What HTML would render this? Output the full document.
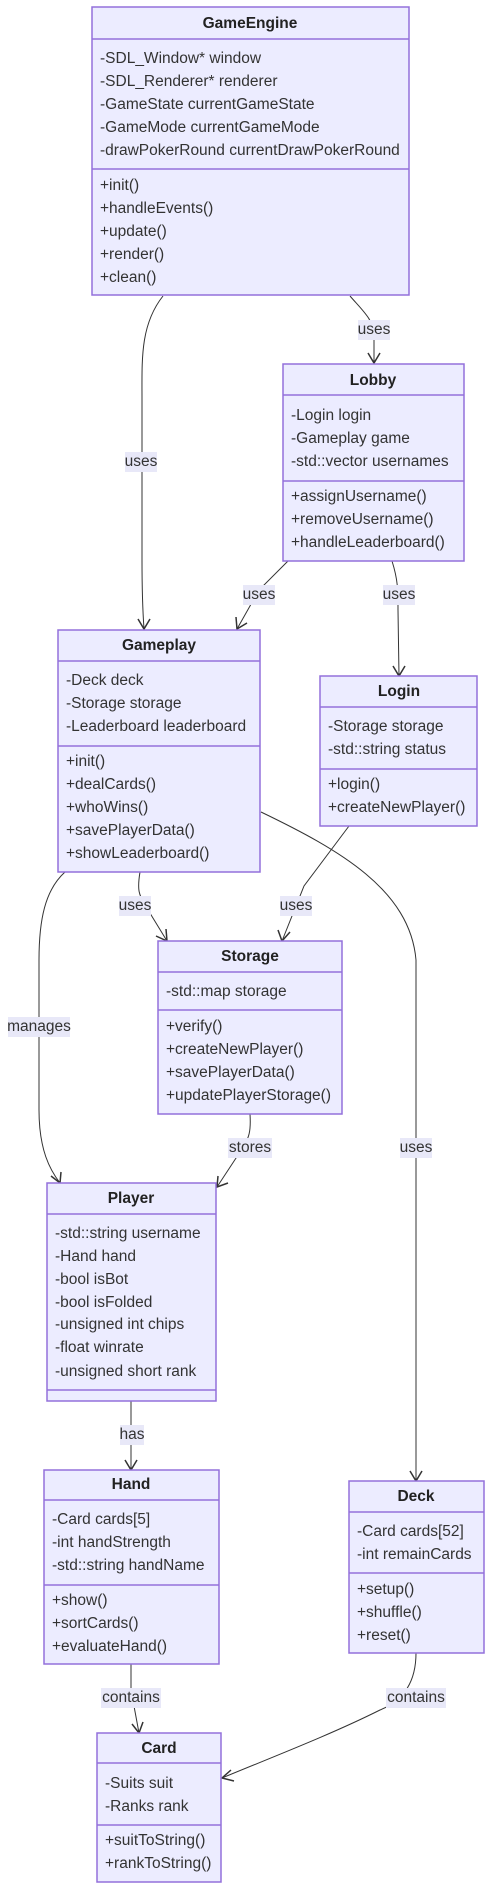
<!DOCTYPE html>
<html><head><meta charset="utf-8"><style>
html,body{margin:0;padding:0;background:#fff;}
svg{display:block;}
text{font-family:"Liberation Sans",sans-serif;font-size:15.5px;fill:#333;dominant-baseline:middle;}
.h{font-weight:bold;text-anchor:middle;fill:#222;}
.b{fill:#ECECFF;stroke:#9370DB;stroke-width:1.5;}
.d{stroke:#9370DB;stroke-width:1.5;}
.e{fill:none;stroke:#333;stroke-width:1;}
.lb{fill:#e8e8f8;}
.lt{text-anchor:middle;}
.ar{fill:none;stroke:#333;stroke-width:1.5;}
</style></head><body>
<svg width="492" height="1894" viewBox="0 0 492 1894" xmlns="http://www.w3.org/2000/svg">
<!-- edges -->
<path class="e" d="M163,296 C140,325 142,360 142,400 L142,560 C142,600 143,615 144,629"/>
<path class="ar" d="M138,619 L144,629 L150,619"/>
<path class="e" d="M350,296 C362,310 374,320 374,335 L374,363"/>
<path class="ar" d="M368,353 L374,363 L380,353"/>
<path class="e" d="M288,561 L259,590 L237,629"/>
<path class="ar" d="M236,617 L237,629 L247,623"/>
<path class="e" d="M392,561 C398,580 398,590 398,610 L399,676"/>
<path class="ar" d="M393,666 L399,676 L405,666"/>
<path class="e" d="M140,872 C137,890 139,895 145,905 L167,941"/>
<path class="ar" d="M156,936 L167,941 L166,929"/>
<path class="e" d="M349,826 L304,886 L282,941"/>
<path class="ar" d="M278,930 L282,941 L290,932"/>
<path class="e" d="M261,812 C340,850 410,890 416,960 L416,1481"/>
<path class="ar" d="M410,1471 L416,1481 L422,1471"/>
<path class="e" d="M65,872 C45,890 39,920 39,960 L39,1110 C39,1150 50,1170 60,1183"/>
<path class="ar" d="M51,1176 L60,1183 L61,1172"/>
<path class="e" d="M250,1114 C251,1130 250,1138 240,1152 L217,1187"/>
<path class="ar" d="M218,1176 L217,1187 L228,1183"/>
<path class="e" d="M131,1401 L131,1470"/>
<path class="ar" d="M125,1460 L131,1470 L137,1460"/>
<path class="e" d="M131,1664 L131,1690 L139,1733"/>
<path class="ar" d="M132,1724 L139,1733 L143,1722"/>
<path class="e" d="M416,1653 C416,1680 405,1700 380,1710 C330,1735 270,1758 222,1778"/>
<path class="ar" d="M231,1770 L222,1778 L234,1781"/>
<!-- edge labels -->
<rect class="lb" x="125" y="452" width="32" height="20"/><text class="lt" x="141" y="462">uses</text>
<rect class="lb" x="358" y="320" width="32" height="20"/><text class="lt" x="374" y="330">uses</text>
<rect class="lb" x="243" y="585" width="32" height="20"/><text class="lt" x="259" y="595">uses</text>
<rect class="lb" x="383" y="585" width="32" height="20"/><text class="lt" x="399" y="595">uses</text>
<rect class="lb" x="119" y="896" width="32" height="20"/><text class="lt" x="135" y="906">uses</text>
<rect class="lb" x="280" y="896" width="32" height="20"/><text class="lt" x="296" y="906">uses</text>
<rect class="lb" x="400" y="1138" width="32" height="20"/><text class="lt" x="416" y="1148">uses</text>
<rect class="lb" x="8" y="1017" width="62" height="20"/><text class="lt" x="39" y="1027">manages</text>
<rect class="lb" x="228" y="1138" width="44" height="20"/><text class="lt" x="250" y="1148">stores</text>
<rect class="lb" x="120" y="1425" width="24" height="20"/><text class="lt" x="132" y="1435">has</text>
<rect class="lb" x="101" y="1688" width="60" height="20"/><text class="lt" x="131" y="1698">contains</text>
<rect class="lb" x="386" y="1688" width="60" height="20"/><text class="lt" x="416" y="1698">contains</text>

<!-- GameEngine -->
<rect class="b" x="92" y="7" width="317" height="288"/>
<line class="d" x1="92" y1="39" x2="409" y2="39"/><line class="d" x1="92" y1="169" x2="409" y2="169"/>
<text class="h" x="250" y="24">GameEngine</text>
<text x="100" y="59">-SDL_Window* window</text>
<text x="100" y="82">-SDL_Renderer* renderer</text>
<text x="100" y="105">-GameState currentGameState</text>
<text x="100" y="128">-GameMode currentGameMode</text>
<text x="100" y="151">-drawPokerRound currentDrawPokerRound</text>
<text x="100" y="186">+init()</text>
<text x="100" y="209">+handleEvents()</text>
<text x="100" y="232">+update()</text>
<text x="100" y="255">+render()</text>
<text x="100" y="278">+clean()</text>

<!-- Lobby -->
<rect class="b" x="283" y="364" width="181" height="197"/>
<line class="d" x1="283" y1="395" x2="464" y2="395"/><line class="d" x1="283" y1="481" x2="464" y2="481"/>
<text class="h" x="373" y="381">Lobby</text>
<text x="291" y="416">-Login login</text>
<text x="291" y="439">-Gameplay game</text>
<text x="291" y="462">-std::vector usernames</text>
<text x="291" y="497">+assignUsername()</text>
<text x="291" y="520">+removeUsername()</text>
<text x="291" y="543">+handleLeaderboard()</text>

<!-- Gameplay -->
<rect class="b" x="58" y="630" width="202" height="242"/>
<line class="d" x1="58" y1="661" x2="260" y2="661"/><line class="d" x1="58" y1="746" x2="260" y2="746"/>
<text class="h" x="159" y="646">Gameplay</text>
<text x="66" y="681">-Deck deck</text>
<text x="66" y="704">-Storage storage</text>
<text x="66" y="727">-Leaderboard leaderboard</text>
<text x="66" y="762">+init()</text>
<text x="66" y="785">+dealCards()</text>
<text x="66" y="808">+whoWins()</text>
<text x="66" y="831">+savePlayerData()</text>
<text x="66" y="854">+showLeaderboard()</text>

<!-- Login -->
<rect class="b" x="320" y="676" width="157" height="150"/>
<line class="d" x1="320" y1="707" x2="477" y2="707"/><line class="d" x1="320" y1="769" x2="477" y2="769"/>
<text class="h" x="399" y="692">Login</text>
<text x="328" y="727">-Storage storage</text>
<text x="328" y="750">-std::string status</text>
<text x="328" y="785">+login()</text>
<text x="328" y="808">+createNewPlayer()</text>

<!-- Storage -->
<rect class="b" x="158" y="941" width="184" height="173"/>
<line class="d" x1="158" y1="972" x2="342" y2="972"/><line class="d" x1="158" y1="1010" x2="342" y2="1010"/>
<text class="h" x="250" y="957">Storage</text>
<text x="166" y="992">-std::map storage</text>
<text x="166" y="1027">+verify()</text>
<text x="166" y="1050">+createNewPlayer()</text>
<text x="166" y="1073">+savePlayerData()</text>
<text x="166" y="1096">+updatePlayerStorage()</text>

<!-- Player -->
<rect class="b" x="47" y="1183" width="169" height="218"/>
<line class="d" x1="47" y1="1214" x2="216" y2="1214"/><line class="d" x1="47" y1="1390" x2="216" y2="1390"/>
<text class="h" x="131" y="1199">Player</text>
<text x="55" y="1234">-std::string username</text>
<text x="55" y="1257">-Hand hand</text>
<text x="55" y="1280">-bool isBot</text>
<text x="55" y="1303">-bool isFolded</text>
<text x="55" y="1325">-unsigned int chips</text>
<text x="55" y="1348">-float winrate</text>
<text x="55" y="1372">-unsigned short rank</text>

<!-- Hand -->
<rect class="b" x="44" y="1470" width="175" height="194"/>
<line class="d" x1="44" y1="1500" x2="219" y2="1500"/><line class="d" x1="44" y1="1585" x2="219" y2="1585"/>
<text class="h" x="131" y="1485">Hand</text>
<text x="52" y="1520">-Card cards[5]</text>
<text x="52" y="1543">-int handStrength</text>
<text x="52" y="1566">-std::string handName</text>
<text x="52" y="1601">+show()</text>
<text x="52" y="1624">+sortCards()</text>
<text x="52" y="1647">+evaluateHand()</text>

<!-- Deck -->
<rect class="b" x="349" y="1481" width="135" height="172"/>
<line class="d" x1="349" y1="1512" x2="484" y2="1512"/><line class="d" x1="349" y1="1573" x2="484" y2="1573"/>
<text class="h" x="416" y="1497">Deck</text>
<text x="357" y="1532">-Card cards[52]</text>
<text x="357" y="1555">-int remainCards</text>
<text x="357" y="1590">+setup()</text>
<text x="357" y="1613">+shuffle()</text>
<text x="357" y="1636">+reset()</text>

<!-- Card -->
<rect class="b" x="97" y="1733" width="124" height="149"/>
<line class="d" x1="97" y1="1763" x2="221" y2="1763"/><line class="d" x1="97" y1="1825" x2="221" y2="1825"/>
<text class="h" x="159" y="1749">Card</text>
<text x="105" y="1784">-Suits suit</text>
<text x="105" y="1807">-Ranks rank</text>
<text x="105" y="1841">+suitToString()</text>
<text x="105" y="1864">+rankToString()</text>
</svg>
</body></html>
